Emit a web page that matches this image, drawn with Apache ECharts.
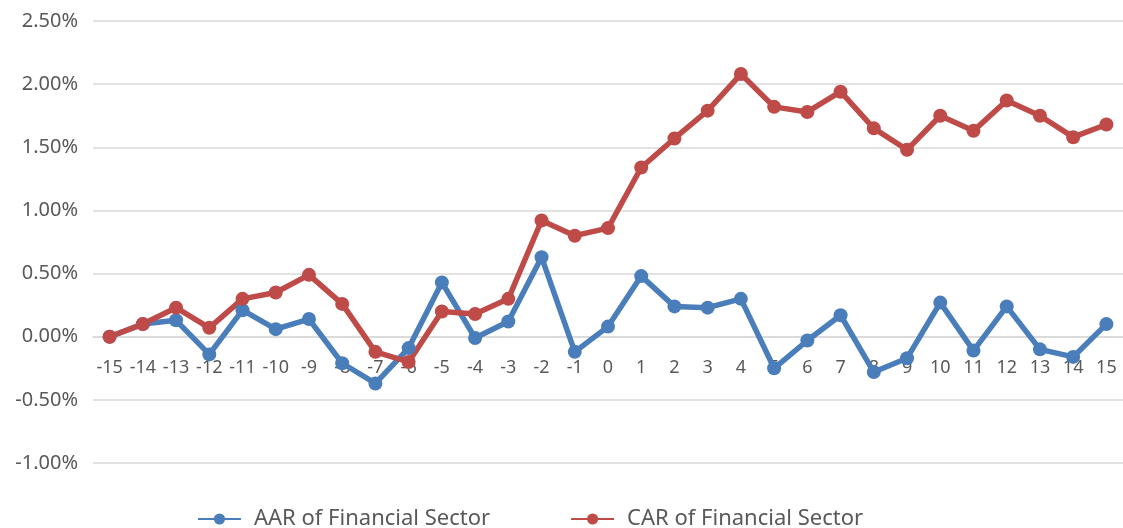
<!DOCTYPE html>
<html>
<head>
<meta charset="utf-8">
<script src="https://cdn.jsdelivr.net/npm/echarts@6/dist/echarts.min.js"></script>
<style>
  html, body { margin: 0; padding: 0; background: #fff; }
  #chart { width: 1123px; height: 528px; }
</style>
</head>
<body>
<div id="chart"></div>
<script>
const chart = echarts.init(document.getElementById('chart'))

// event days
const days = ['-15', '-14', '-13', '-12', '-11', '-10', '-9', '-8', '-7', '-6', '-5', '-4', '-3', '-2', '-1',
  '0', '1', '2', '3', '4', '5', '6', '7', '8', '9', '10', '11', '12', '13', '14', '15']

// values in percent
const aar = [0.00, 0.10, 0.13, -0.14, 0.21, 0.06, 0.14, -0.21, -0.37, -0.09, 0.43, -0.01, 0.12, 0.63, -0.12,
  0.08, 0.48, 0.24, 0.23, 0.30, -0.25, -0.03, 0.17, -0.28, -0.17, 0.27, -0.11, 0.24, -0.10, -0.16, 0.10]
const car = [0.00, 0.10, 0.23, 0.07, 0.30, 0.35, 0.49, 0.26, -0.12, -0.20, 0.20, 0.18, 0.30, 0.92, 0.80,
  0.86, 1.34, 1.57, 1.79, 2.08, 1.82, 1.78, 1.94, 1.65, 1.48, 1.75, 1.63, 1.87, 1.75, 1.58, 1.68]

const textColor = '#595959'
const font = 'Noto Sans'

const option = {
  animation: false,
  grid: { left: 93, width: 1036, top: 21, bottom: 65 },
  legend: {
    top: 503,
    left: 192,
    itemWidth: 43,
    itemHeight: 14,
    itemGap: 80,
    textStyle: { color: textColor, fontSize: 22, fontFamily: font, padding: [0, 0, 0, 8] },
    data: ['AAR of Financial Sector', 'CAR of Financial Sector'],
  },
  xAxis: {
    type: 'category',
    data: days,
    boundaryGap: true,
    // labels sit just under the 0% line, as in the original
    offset: -126,
    axisLine: { onZero: false, lineStyle: { color: '#d9d9d9', width: 1.5 } },
    axisTick: { show: false },
    axisLabel: { interval: 0, margin: 22, color: textColor, fontSize: 18, fontFamily: font },
  },
  yAxis: {
    type: 'value',
    min: -1,
    max: 2.5,
    interval: 0.5,
    axisLine: { show: false },
    axisTick: { show: false },
    splitLine: { lineStyle: { color: '#d9d9d9', width: 1.5 } },
    axisLabel: {
      margin: 15,
      color: textColor,
      fontSize: 20,
      fontFamily: font,
      formatter: (v) => v.toFixed(2) + '%',
    },
  },
  series: [
    {
      name: 'AAR of Financial Sector',
      type: 'line',
      data: aar,
      symbol: 'circle',
      symbolSize: 14,
      itemStyle: { color: '#4a7ebb' },
      lineStyle: { color: '#4a7ebb', width: 5.5 },
    },
    {
      name: 'CAR of Financial Sector',
      type: 'line',
      data: car,
      symbol: 'circle',
      symbolSize: 14,
      itemStyle: { color: '#be4b48' },
      lineStyle: { color: '#be4b48', width: 5.5 },
    },
  ],
}

chart.setOption(option)
</script>
</body>
</html>
